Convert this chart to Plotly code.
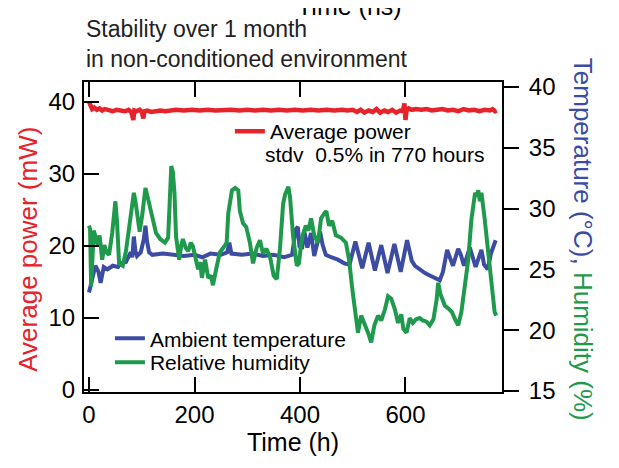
import plotly.graph_objects as go

# ---------------- data ----------------
power_t = [0, 3, 6, 10, 15, 20, 25, 30, 38, 45, 52, 60, 68, 75, 80, 84, 86, 90, 96, 100,
           103, 105, 110, 118, 125, 135, 145, 155, 165, 180, 195, 210, 225, 240, 255, 270,
           285, 300, 315, 330, 345, 360, 375, 390, 405, 420, 435, 450, 465, 480, 490, 500,
           508, 515, 522, 530, 538, 545, 552, 560, 567, 575, 582, 590, 595, 598, 600, 602,
           606, 612, 620, 630, 640, 650, 660, 670, 680, 690, 700, 710, 720, 730, 740, 750,
           760, 765, 770, 773]
power_mw = [40.0, 39.6, 39.0, 39.2, 38.9, 39.1, 38.8, 39.0, 38.9, 38.7, 38.9, 38.8, 38.7, 38.9,
            38.6, 37.5, 38.8, 38.7, 38.9, 38.6, 37.7, 38.7, 38.8, 38.6, 38.7, 38.8, 38.7, 38.8,
            38.9, 38.8, 38.9, 38.8, 38.9, 38.8, 38.9, 38.9, 38.8, 38.9, 38.8, 38.9, 38.8, 38.9,
            38.8, 38.9, 38.8, 38.9, 38.8, 38.9, 38.8, 38.9, 38.8, 38.9, 38.6, 38.9, 38.5, 38.8,
            38.6, 39.0, 38.5, 38.8, 38.6, 38.9, 38.5, 38.8, 38.7, 39.8, 37.5, 38.8, 39.1, 38.9,
            39.0, 38.9, 39.0, 38.8, 38.9, 39.0, 38.8, 38.9, 38.7, 39.0, 38.8, 38.9, 38.7, 38.9,
            38.8, 39.0, 38.7, 38.8]

temp_t = [0, 5, 12, 18, 22, 28, 35, 45, 55, 60, 70, 79, 82, 85, 88, 91, 98, 104, 107, 110,
          114, 120, 140, 160, 180, 200, 215, 230, 250, 262, 266, 270, 290, 310, 330, 350, 370,
          385, 392, 396, 399, 404, 408, 414, 421, 427, 433, 438, 443, 449, 459, 472, 484, 494,
          505, 518, 530, 542, 554, 566, 579, 591, 603, 607, 612, 618, 627, 637, 646, 656, 665,
          671, 679, 684, 690, 700, 705, 711, 722, 733, 744, 749, 756, 762, 771]
temp_c = [23.1, 24.0, 25.3, 24.8, 23.9, 25.2, 25.0, 25.3, 25.2, 25.5, 25.6, 26.4, 26.0, 27.7,
          26.5, 26.1, 26.4, 27.5, 28.6, 27.3, 26.4, 26.2, 26.3, 26.2, 26.1, 26.2, 26.0, 26.3,
          26.2, 26.4, 27.2, 26.3, 26.2, 26.3, 26.1, 26.2, 26.0, 26.2, 28.3, 28.5, 26.9, 26.7,
          28.2, 26.8, 28.0, 26.1, 27.4, 28.1, 27.0, 26.2, 26.0, 25.8, 25.5, 25.4, 27.3, 25.1,
          27.2, 24.9, 27.0, 24.7, 27.1, 24.8, 27.4, 26.5, 25.7, 25.3, 25.0, 24.7, 24.5, 24.3,
          24.1, 24.8, 26.6, 26.0, 25.3, 26.7, 26.2, 25.3, 26.8, 25.2, 26.6, 25.4, 25.0, 26.3,
          27.4]

hum_t = [0, 2, 4, 6, 9, 13, 17, 20, 25, 29, 33, 38, 44, 50, 53, 57, 64, 70, 75, 79, 85, 88,
         91, 96, 101, 107, 112, 117, 122, 127, 135, 144, 150, 153, 156, 159, 162, 165, 168,
         171, 175, 178, 183, 188, 193, 197, 201, 207, 211, 214, 220, 226, 231, 235, 241, 248,
         255, 261, 264, 268, 271, 277, 283, 286, 292, 298, 305, 311, 318, 324, 330, 336, 343,
         350, 356, 362, 368, 372, 378, 381, 387, 394, 398, 402, 405, 411, 416, 421, 427, 434,
         440, 446, 450, 455, 461, 468, 478, 487, 493, 500, 506, 510, 516, 522, 529, 535, 541,
         548, 554, 561, 567, 573, 580, 586, 592, 596, 602, 608, 614, 620, 627, 633, 640, 646,
         653, 659, 662, 666, 669, 675, 681, 688, 694, 700, 706, 713, 719, 725, 729, 732, 735,
         738, 741, 744, 750, 757, 763, 769, 772]
hum_pct = [28.6, 28.3, 23.6, 26.0, 28.2, 27.6, 26.9, 27.8, 25.8, 27.0, 26.4, 26.2, 28.0, 30.6,
           29.0, 25.5, 25.3, 26.5, 28.0, 29.1, 31.3, 30.6, 29.8, 28.1, 29.5, 31.7, 30.8, 29.8,
           29.0, 28.0, 27.5, 27.2, 27.6, 30.0, 33.5, 33.0, 31.3, 27.7, 26.8, 25.8, 27.0, 27.5,
           26.8, 26.5, 27.2, 26.9, 26.1, 25.0, 25.6, 24.3, 25.8, 24.3, 24.5, 23.7, 25.0, 26.4,
           26.8, 27.2, 29.6, 31.0, 31.5, 31.7, 31.5, 29.8, 28.8, 28.5, 27.2, 25.5, 26.8, 27.4,
           26.3, 26.7, 26.1, 24.5, 24.2, 26.7, 30.4, 31.2, 31.8, 31.0, 27.7, 25.3, 25.5, 27.0,
           27.8, 28.6, 28.2, 29.2, 27.8, 27.2, 29.2, 29.6, 29.8, 28.6, 29.0, 27.8, 27.6, 27.2,
           25.8, 23.1, 21.2, 19.8, 21.2, 20.6, 19.8, 19.0, 20.4, 21.2, 20.8, 21.7, 22.8, 22.6,
           21.7, 20.6, 21.3, 20.1, 19.8, 21.0, 20.6, 20.9, 21.0, 20.8, 20.7, 20.4, 20.9, 22.5,
           23.9, 23.0, 22.6, 22.0, 21.8, 21.5, 20.9, 20.4, 21.5, 23.7, 25.8, 29.1, 30.5, 31.3,
           31.0, 31.5, 30.6, 31.3, 29.2, 26.4, 23.7, 21.5, 21.2]

x_ticks = [0, 200, 400, 600]
left_ticks = [0, 10, 20, 30, 40]
right_ticks = [15, 20, 25, 30, 35, 40]

RED = "#e8222a"
BLUE = "#3b4ca2"
GREEN = "#1f9a4c"
FONT = "Liberation Sans, Arial, Helvetica, sans-serif"

fig = go.Figure()
fig.add_trace(go.Scatter(x=power_t, y=power_mw, mode="lines", name="Average power",
                         line=dict(color=RED, width=4.5), legend="legend"))
fig.add_trace(go.Scatter(x=temp_t, y=temp_c, mode="lines", name="Ambient temperature",
                         line=dict(color=BLUE, width=4), yaxis="y2", legend="legend2"))
fig.add_trace(go.Scatter(x=hum_t, y=hum_pct, mode="lines", name="Relative humidity",
                         line=dict(color=GREEN, width=4), yaxis="y2", legend="legend3"))

axis_common = dict(showgrid=False, zeroline=False, showline=True, linecolor="black",
                   linewidth=2, tickcolor="black", tickwidth=2, ticklen=15,
                   tickfont=dict(size=24, color="black", family=FONT))

leg_common = dict(xanchor="left", yanchor="top", bgcolor="rgba(0,0,0,0)",
                  font=dict(size=21, family=FONT, color="black"))

fig.update_layout(
    width=603, height=452,
    margin=dict(l=76, r=109, t=74, b=66),
    paper_bgcolor="white", plot_bgcolor="white",
    font=dict(family=FONT, color="black"),
    xaxis=dict(range=[-9.5, 783], tickvals=x_ticks, ticks="inside", mirror="ticks",
               title=dict(text="Time (h)", font=dict(size=25, family=FONT), standoff=3),
               **axis_common),
    yaxis=dict(range=[-0.27, 42.76], tickvals=left_ticks, ticks="inside", mirror=False,
               ticklabelstandoff=2, **axis_common),
    yaxis2=dict(range=[14.92, 40.41], tickvals=right_ticks, ticks="outside", overlaying="y",
                side="right", anchor="x", ticklabelstandoff=5, **axis_common),
    legend=dict(x=0.349, y=0.906, **leg_common),
    legend2=dict(x=0.062, y=0.238, **leg_common),
    legend3=dict(x=0.062, y=0.161, **leg_common),
    showlegend=True,
)

fig.add_annotation(text="stdv  0.5% in 770 hours", xref="paper", yref="paper",
                   x=0.428, y=0.766, xanchor="left", yanchor="middle", showarrow=False,
                   font=dict(size=21, family=FONT, color="black"))
fig.add_annotation(text="Stability over 1 month<br>in non-conditioned environment",
                   xref="paper", yref="paper", x=0.0, y=1.22, xanchor="left", yanchor="top",
                   align="left", showarrow=False,
                   font=dict(size=23, family=FONT, color="#222222"))
fig.add_annotation(text="Time (ns)", xref="paper", yref="paper", x=0.636, y=1.244,
                   xanchor="center", yanchor="middle", showarrow=False,
                   font=dict(size=25, family=FONT, color="black"))
fig.add_annotation(text="Average power (mW)", xref="paper", yref="paper", x=-0.134, y=0.462,
                   xanchor="center", yanchor="middle", textangle=-90, showarrow=False,
                   font=dict(size=26, family=FONT, color=RED))
fig.add_annotation(text=f"<span style='color:{BLUE}'>Temperature (°C), </span>"
                        f"<span style='color:{GREEN}'>Humidity (%)</span>",
                   xref="paper", yref="paper", x=1.194, y=0.494,
                   xanchor="center", yanchor="middle", textangle=90, showarrow=False,
                   font=dict(size=26, family=FONT))

fig.write_html("out.html")
